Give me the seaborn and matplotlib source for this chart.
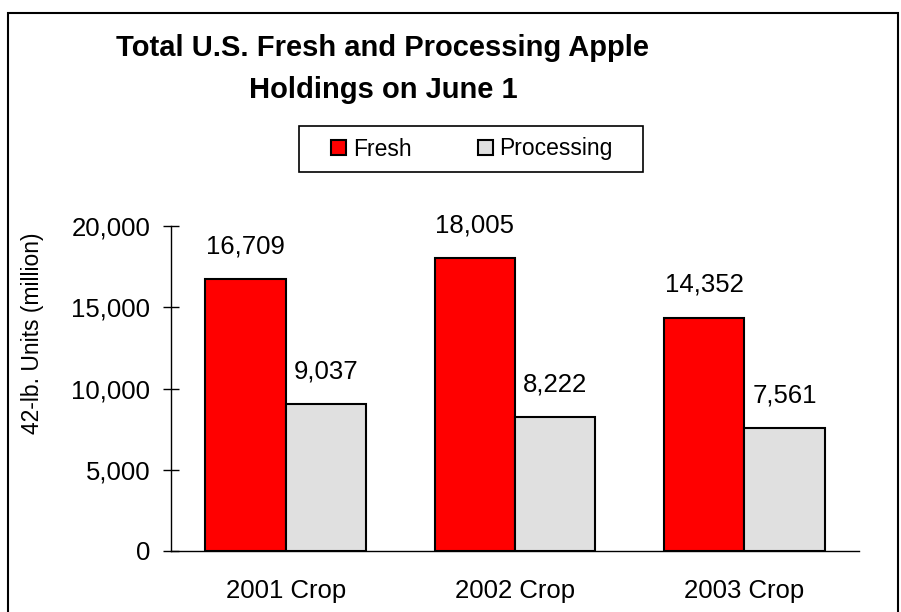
import matplotlib
matplotlib.use("Agg")
import matplotlib.pyplot as plt
from matplotlib.patches import Rectangle
import seaborn as sns
import pandas as pd

crops = ["2001 Crop", "2002 Crop", "2003 Crop"]
fresh = [16709, 18005, 14352]
processing = [9037, 8222, 7561]
series = ["Fresh", "Processing"]
yticks = [0, 5000, 10000, 15000, 20000]

df = pd.DataFrame({
    "crop": crops * 2,
    "value": fresh + processing,
    "type": [series[0]] * len(crops) + [series[1]] * len(crops),
})

sns.set_style("white")
plt.rcParams["font.family"] = ["Liberation Sans", "DejaVu Sans"]
plt.rcParams["text.color"] = "black"
plt.rcParams["axes.labelcolor"] = "black"
plt.rcParams["xtick.color"] = "black"
plt.rcParams["ytick.color"] = "black"

W, H = 901, 612
fig = plt.figure(figsize=(W / 100, H / 100), dpi=100)
ax = fig.add_axes([171 / W, 1 - 551 / H, (859 - 171) / W, (551 - 226) / H])

sns.barplot(data=df, x="crop", y="value", hue="type", order=crops, hue_order=series,
            palette=["#FF0000", "#E0E0E0"], edgecolor="black", linewidth=1.5,
            width=0.7, saturation=1, ax=ax, legend=True)

handles, labels = ax.get_legend_handles_labels()
ax.get_legend().remove()

for cont in ax.containers:
    vals = [b.get_height() for b in cont]
    ax.bar_label(cont, labels=[f"{v:,.0f}" for v in vals], padding=15, fontsize=18.5)

ax.set_xlim(-0.5, 2.5)
ax.set_ylim(0, 20000)
ax.set_yticks(yticks)
ax.set_yticklabels([f"{v:,}" for v in yticks], fontsize=18.5)
ax.set_xticks(range(len(crops)))
ax.set_xticklabels(crops, fontsize=18.5)
ax.set_xticks([-0.5, 0.5, 1.5, 2.5], minor=True)
ax.tick_params(axis="x", which="major", length=0, pad=20)
ax.tick_params(axis="x", which="minor", direction="inout", length=12, width=1, color="black")
ax.tick_params(axis="y", direction="inout", length=12, width=1, color="black", pad=9, left=True)
ax.set_xlabel("")
ax.set_ylabel("42-lb. Units (million)", fontsize=16.5)
ax.yaxis.set_label_coords(-0.184, 0.67)

for s in ["top", "right"]:
    ax.spines[s].set_visible(False)
for s in ["left", "bottom"]:
    ax.spines[s].set_color("black")
    ax.spines[s].set_linewidth(1)

fig.text(383 / W, 1 - 56 / H, "Total U.S. Fresh and Processing Apple",
         ha="center", va="baseline", fontsize=21, fontweight="bold")
fig.text(383 / W, 1 - 98 / H, "Holdings on June 1",
         ha="center", va="baseline", fontsize=21, fontweight="bold")

# legend
leg = fig.legend(handles, labels, loc="center left", bbox_to_anchor=(331 / W, 1 - 149 / H),
                 ncol=2, frameon=False, fontsize=16.5, handlelength=0.65, handleheight=0.65,
                 handletextpad=0.3, columnspacing=2.9, borderpad=0, borderaxespad=0)
for h in leg.legend_handles:
    h.set_edgecolor("black")
    h.set_linewidth(1.5)
fig.patches.append(Rectangle((299 / W, 1 - 172 / H), (643 - 299) / W, (172 - 126) / H,
                             transform=fig.transFigure, fill=False, edgecolor="black",
                             linewidth=1.2))

# outer border
fig.patches.append(Rectangle((8 / W, -0.02), (898 - 8) / W, 1 - 13 / H + 0.02,
                             transform=fig.transFigure, fill=False, edgecolor="black",
                             linewidth=1.5))

fig.savefig("out.png", dpi=100)
